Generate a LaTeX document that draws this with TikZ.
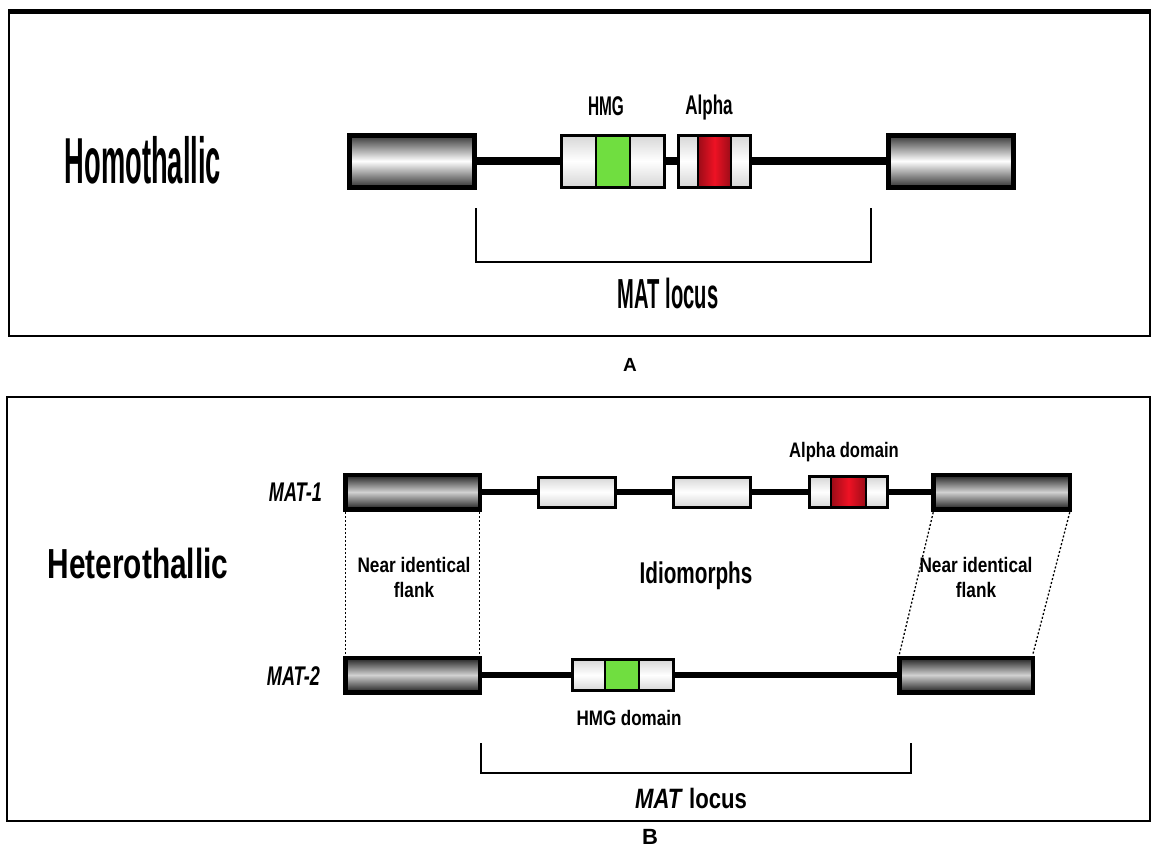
\documentclass[tikz,border=0pt]{standalone}
\usepackage{fontspec}
\setmainfont{Liberation Sans}
\usetikzlibrary{positioning}

\definecolor{hmggreen}{RGB}{112,222,64}
\definecolor{alphared}{RGB}{238,18,36}

\tikzset{
  flankA/.style={draw=black,line width=5pt,inner sep=0pt,outer sep=0pt,
    minimum width=125pt,minimum height=52pt,shading=axis,
    top color=black!80,bottom color=black!80,middle color=white},
  flankB/.style={draw=black,line width=4.5pt,inner sep=0pt,outer sep=0pt,
    minimum height=34.5pt,shading=axis,
    top color=black!88,bottom color=black!88,middle color=black!18},
  seg/.style={draw=black,line width=1.2pt,inner sep=0pt,outer sep=0pt,
    shading=axis,top color=black!16,bottom color=black!16,middle color=white},
  hmgseg/.style={seg,shading=axis,top color=hmggreen,bottom color=hmggreen,middle color=hmggreen},
  alphaseg/.style={seg,shading=axis,left color=alphared!65!black,right color=alphared!65!black,middle color=alphared},
  exonbox/.style={seg,line width=3pt,minimum width=77pt,minimum height=30pt},
  boxedge/.style={draw=black,line width=3pt},
  backboneA/.style={line width=8pt},
  backboneB/.style={line width=6pt},
  bracket/.style={line width=2.2pt},
  panel/.style={line width=2.4pt},
  flankline/.style={line width=1.3pt,dash pattern=on 2pt off 2pt},
  lbl/.style={inner sep=0pt,font=\bfseries}
}

\begin{document}
\begin{tikzpicture}[x=1pt,y=-1pt]
  \useasboundingbox (0,0) rectangle (1152,849);

  % Panel A
  \draw[panel] (9,10) rectangle (1150,336);
  \draw[line width=5pt] (9,11) -- (1150,11);
  \node[lbl,font=\fontsize{65}{70}\selectfont\bfseries,xscale=0.42] (homo) at (143,160) {Homothallic};

  \node[flankA] (flAL) at (412,161) {};
  \node[flankA] (flAR) at (951,161) {};

  \node[seg,minimum width=35pt,minimum height=52pt,anchor=west] (hmgL) at (561,161) {};
  \node[hmgseg,minimum width=34pt,minimum height=52pt,right=0pt of hmgL] (hmgC) {};
  \node[seg,minimum width=34pt,minimum height=52pt,right=0pt of hmgC] (hmgR) {};
  \draw[boxedge] (hmgL.north west) rectangle (hmgR.south east);

  \node[seg,minimum width=20pt,minimum height=52pt,anchor=west] (alL) at (678,161) {};
  \node[alphaseg,minimum width=33pt,minimum height=52pt,right=0pt of alL] (alC) {};
  \node[seg,minimum width=19pt,minimum height=52pt,right=0pt of alC] (alR) {};
  \draw[boxedge] (alL.north west) rectangle (alR.south east);

  \draw[backboneA] (flAL.east) -- (hmgL.west);
  \draw[backboneA] (hmgR.east) -- (alL.west);
  \draw[backboneA] (alR.east) -- (flAR.west);

  \node[lbl,font=\fontsize{27}{30}\selectfont\bfseries,xscale=0.57] (hmgA) at (606,106) {HMG};
  \node[lbl,font=\fontsize{27}{30}\selectfont\bfseries,xscale=0.63] (alphaA) at (709,108) {Alpha};

  \coordinate (brAL) at (476,208);
  \coordinate (brAR) at (871,208);
  \draw[bracket] (brAL) -- ++(0,54) -| (brAR);
  \node[lbl,font=\fontsize{42}{46}\selectfont\bfseries,xscale=0.48] (locusA) at (668,293) {MAT locus};

  \node[lbl,font=\fontsize{19}{21}\selectfont\bfseries] (capA) at (630,365) {A};

  % Panel B
  \draw[panel] (7,397) rectangle (1150,821);
  \node[lbl,font=\fontsize{42}{46}\selectfont\bfseries,xscale=0.71] (hetero) at (138,563) {Heterothallic};

  % MAT-1
  \node[flankB,minimum width=134.5pt] (f1L) at (412.5,492) {};
  \node[flankB,minimum width=136.5pt] (f1R) at (1001.5,492) {};
  \node[exonbox] (ex1) at (576.5,492) {};
  \node[exonbox] (ex2) at (712,492) {};
  \node[seg,minimum width=22pt,minimum height=31pt,anchor=west] (a1L) at (809,492) {};
  \node[alphaseg,minimum width=35pt,minimum height=31pt,right=0pt of a1L] (a1C) {};
  \node[seg,minimum width=21pt,minimum height=31pt,right=0pt of a1C] (a1R) {};
  \draw[boxedge] (a1L.north west) rectangle (a1R.south east);
  \draw[backboneB] (f1L.east) -- (ex1.west);
  \draw[backboneB] (ex1.east) -- (ex2.west);
  \draw[backboneB] (ex2.east) -- (a1L.west);
  \draw[backboneB] (a1R.east) -- (f1R.west);

  % MAT-2
  \node[flankB,minimum width=134.5pt] (f2L) at (412.5,675) {};
  \node[flankB,minimum width=133.5pt] (f2R) at (966,675) {};
  \node[seg,minimum width=33pt,minimum height=31pt,anchor=west] (h2L) at (572,675) {};
  \node[hmgseg,minimum width=34pt,minimum height=31pt,right=0pt of h2L] (h2C) {};
  \node[seg,minimum width=34pt,minimum height=31pt,right=0pt of h2C] (h2R) {};
  \draw[boxedge] (h2L.north west) rectangle (h2R.south east);
  \draw[backboneB] (f2L.east) -- (h2L.west);
  \draw[backboneB] (h2R.east) -- (f2R.west);

  % flanks
  \draw[flankline] ([yshift=-3pt]f1L.south west) -- ([yshift=3pt]f2L.north west);
  \draw[flankline] ([yshift=-3pt]f1L.south east) -- ([yshift=3pt]f2L.north east);
  \draw[flankline] ([yshift=-3pt]f1R.south west) -- ([yshift=3pt]f2R.north west);
  \draw[flankline] ([yshift=-3pt]f1R.south east) -- ([yshift=3pt]f2R.north east);

  \node[lbl,font=\fontsize{27}{30}\selectfont\bfseries\itshape,xscale=0.67,anchor=east] (mat1) at (322,492) {MAT-1};
  \node[lbl,font=\fontsize{27}{30}\selectfont\bfseries\itshape,xscale=0.67,anchor=east] (mat2) at (320,676) {MAT-2};
  \node[lbl,font=\fontsize{21}{24}\selectfont\bfseries,xscale=0.79] (alphaB) at (844,452) {Alpha domain};
  \node[lbl,font=\fontsize{21}{24}\selectfont\bfseries,xscale=0.81] (hmgB) at (629,718) {HMG domain};
  \node[lbl,font=\fontsize{21}{25}\selectfont\bfseries,xscale=0.82,align=center] (nearL) at (414,577) {Near identical\\flank};
  \node[lbl,font=\fontsize{21}{25}\selectfont\bfseries,xscale=0.82,align=center] (nearR) at (976,577) {Near identical\\flank};
  \node[lbl,font=\fontsize{30}{34}\selectfont\bfseries,xscale=0.69] (idio) at (696,576) {Idiomorphs};

  \coordinate (brBL) at (481,743);
  \coordinate (brBR) at (911,743);
  \draw[bracket] (brBL) -- ++(0,30) -| (brBR);
  \node[lbl,font=\fontsize{28}{30}\selectfont\bfseries,xscale=0.79] (locusB) at (691,798) {\textit{MAT} locus};

  \node[lbl,font=\fontsize{22}{24}\selectfont\bfseries] (capB) at (650,837) {B};
\end{tikzpicture}
\end{document}
